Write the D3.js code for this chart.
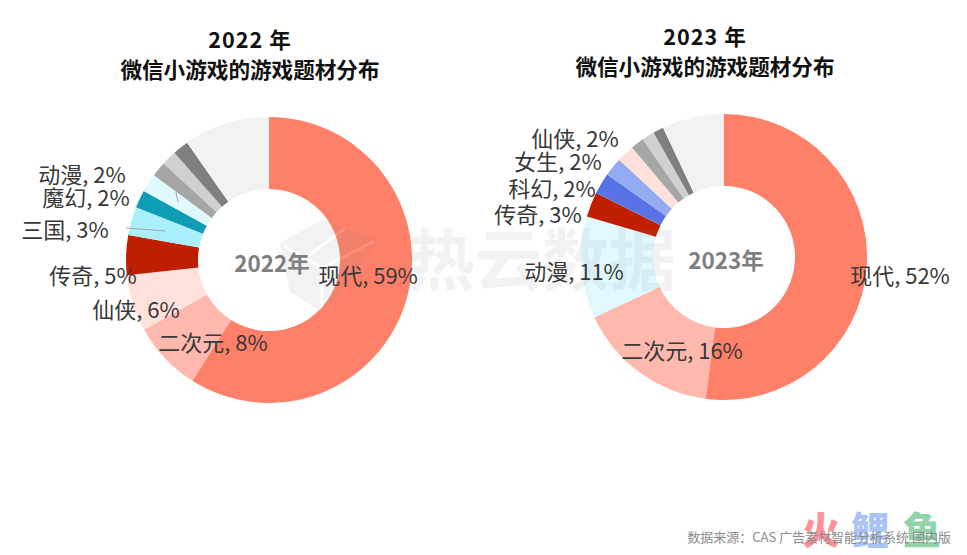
<!DOCTYPE html>
<html>
<head>
<meta charset="utf-8">
<script src="https://cdn.jsdelivr.net/npm/d3@7/dist/d3.min.js"></script>
<style>
    html, body { margin: 0; padding: 0; background: #fff; }
    svg { display: block; }
    text { font-family: "Noto Sans CJK SC", "Noto Sans", sans-serif; }
</style>
</head>
<body>
<svg id="chart" width="967" height="555"></svg>
<script>
    // 2022 slices, clockwise from 12 o'clock. The unlabelled ones have no name.
    const names2022 = ['现代', '二次元', '仙侠', '传奇', '三国', '魔幻', '动漫', '', '', '', ''];
    const values2022 = [59, 7.9, 6.4, 4.5, 3.2, 2, 2.1, 1.7, 1.7, 1.8, 9.7];
    const colors2022 = ['#ff8068', '#ffb8ad', '#ffe1dc', '#bf1e00', '#a9effc', '#0f9cb5', '#e0f9ff', '#a6a6a6', '#d0d0d0', '#7f7f7f', '#f2f2f2'];

    // 2023 slices
    const names2023 = ['现代', '二次元', '动漫', '传奇', '科幻', '女生', '仙侠', '', '', '', ''];
    const values2023 = [52, 16, 11.5, 2.8, 2.4, 2.1, 2, 1.5, 1.4, 1.2, 7];
    const colors2023 = ['#ff8068', '#ffb8ad', '#e0f9ff', '#bf1e00', '#5873e6', '#94abf2', '#ffe1dc', '#a6a6a6', '#d0d0d0', '#7f7f7f', '#f2f2f2'];

    const percents2022 = ['59%', '8%', '6%', '5%', '3%', '2%', '2%'];
    const percents2023 = ['52%', '16%', '11%', '3%', '2%', '2%', '2%'];

    // hand placed labels, like the original
    const labelPos2022 = [[368, 276], [213, 343], [136, 310], [93, 276], [65, 230], [86, 198], [82, 175]];
    const labelPos2023 = [[900, 276], [682, 351], [574, 272], [538, 215], [552, 189], [558, 162], [575, 139]];

    const svg = d3.select('#chart');
    const pie = d3.pie().sort(null).value(d => d.value);
    const arc = d3.arc().innerRadius(71).outerRadius(143);

    function drawDonut(cx, cy, names, values, colors) {
        const rows = values.map((v, i) => ({ value: v, name: names[i], color: colors[i] }));
        svg.append('g')
            .attr('transform', `translate(${cx},${cy})`)
            .selectAll('path')
            .data(pie(rows))
            .enter()
            .append('path')
            .attr('d', arc)
            .attr('fill', d => d.data.color);
    }

    function drawLabels(names, percents, positions) {
        svg.append('g')
            .selectAll('text')
            .data(percents)
            .enter()
            .append('text')
            .attr('x', (d, i) => positions[i][0])
            .attr('y', (d, i) => positions[i][1])
            .attr('dy', '0.35em')
            .attr('text-anchor', 'middle')
            .attr('font-size', 22)
            .attr('fill', '#383838')
            .text((d, i) => `${names[i]}, ${d}`);
    }

    function drawTitle(cx, y, year) {
        const t = svg.append('g')
            .attr('text-anchor', 'middle')
            .attr('font-weight', 700)
            .attr('font-size', 21.6)
            .attr('fill', '#111');
        t.append('text').attr('x', cx).attr('y', y).attr('letter-spacing', 1).text(`${year} 年`);
        t.append('text').attr('x', cx).attr('y', y + 30).text('微信小游戏的游戏题材分布');
    }

    function centerText(x, y, s) {
        svg.append('text')
            .attr('x', x).attr('y', y)
            .attr('dy', '0.35em')
            .attr('text-anchor', 'middle')
            .attr('font-size', 22.5)
            .attr('font-weight', 700)
            .attr('fill', '#7f7f7f')
            .text(s);
    }

    drawDonut(269, 260, names2022, values2022, colors2022);
    drawDonut(724, 257, names2023, values2023, colors2023);

    // faint leader lines on the 2022 side
    svg.append('path')
        .attr('d', 'M126,228L165,231M176,192L178,202')
        .attr('fill', 'none')
        .attr('stroke', '#a6a6a6')
        .attr('stroke-width', 1);

    // watermark
    const wm = svg.append('g').attr('opacity', 0.1).attr('fill', '#8c8c8c');
    wm.append('path')
        .attr('d', 'M280,243L322,220L378,240L348,284L322,312L290,292Z');
    wm.append('path')
        .attr('d', 'M284,246L322,268L374,241M322,268L322,310M300,262L345,228')
        .attr('fill', 'none')
        .attr('stroke', '#fff')
        .attr('stroke-width', 3);
    wm.append('text')
        .attr('x', 542).attr('y', 262)
        .attr('dy', '0.35em')
        .attr('text-anchor', 'middle')
        .attr('font-size', 67)
        .attr('font-weight', 700)
        .text('热云数据');

    drawTitle(250, 48, 2022);
    drawTitle(705, 45, 2023);
    centerText(272, 264, '2022年');
    centerText(726, 261, '2023年');
    drawLabels(names2022, percents2022, labelPos2022);
    drawLabels(names2023, percents2023, labelPos2023);

    // bottom right logo and source line
    const logo = svg.append('g')
        .attr('font-size', 38)
        .attr('font-weight', 900)
        .attr('text-anchor', 'middle');
    logo.append('text').attr('x', 821).attr('y', 544).attr('fill', '#ff9097').text('火');
    logo.append('text').attr('x', 870).attr('y', 544).attr('fill', '#a9c4f5').text('鲤');
    logo.append('text').attr('x', 922).attr('y', 544).attr('fill', '#93d3aa').text('鱼');

    svg.append('text')
        .attr('x', 951).attr('y', 542)
        .attr('text-anchor', 'end')
        .attr('font-size', 13)
        .attr('fill', '#8c8c8c')
        .text('数据来源：CAS 广告素材智能分析系统 国内版');
</script>
</body>
</html>
